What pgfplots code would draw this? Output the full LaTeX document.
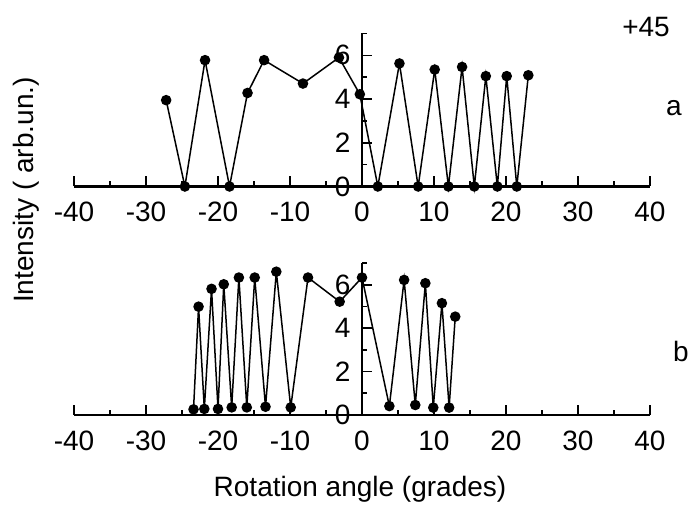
\documentclass[border=0pt]{standalone}
\usepackage{pgfplots}
\pgfplotsset{compat=1.18}
\usepackage{fontspec}
\setmainfont{Liberation Sans}

\pgfplotsset{
  panel/.style={
    scale only axis, width=576pt,
    axis lines=middle,
    axis line style={-, line width=2.2pt},
    xmin=-40, xmax=40, ymin=0, ymax=7,
    xtick={-40,-30,...,40},
    xticklabels={-40,-30,-20,-10,0,10,20,30,40},
    ytick={0,2,4,6}, minor ytick={1,3,5,7},
    yticklabels={0\kern8pt,2\kern8pt,4\kern8pt,6\kern8pt},
    tick align=inside,
    hide obscured x ticks=false, hide obscured y ticks=false,
    major tick length=10pt, minor tick length=5pt,
    major tick style={line width=1.6pt, black},
    minor tick style={line width=1.6pt, black},
    major x tick style={draw=none},
    ticklabel style={font=\fontsize{28}{30}\selectfont},
    xticklabel style={yshift=-12pt},
    clip=false,
  },
  dots/.style={black, line width=1.5pt, mark=*, mark size=4.5pt, mark options={solid, fill=black}},
  tickbar/.style={ycomb, no marks, black, line width=1.6pt},
}
% short upward tick bars on the x axis: every 10 long, every 5 short
\newcommand{\xtickbars}{%
  \addplot[tickbar] coordinates {(-40,0.46) (-30,0.46) (-20,0.46) (-10,0.46) (10,0.46) (20,0.46) (30,0.46) (40,0.46)};
  \addplot[tickbar] coordinates {(-35,0.23) (-25,0.23) (-15,0.23) (-5,0.23) (5,0.23) (15,0.23) (25,0.23) (35,0.23)};
}

\begin{document}
\begin{tikzpicture}[x=1pt,y=1pt]
  \path[use as bounding box] (0,0) rectangle (691,506);

  % panel a
  \begin{axis}[panel, height=153pt, at={(362pt,319.5pt)}, anchor=origin]
    \xtickbars
    \addplot[dots] coordinates {
      (-27.2,3.95) (-24.6,0) (-21.8,5.78) (-18.4,0) (-15.9,4.28)
      (-13.6,5.78) (-8.2,4.71) (-3.2,5.9) (-0.3,4.22) (2.2,0)
      (5.2,5.63) (7.8,0) (10.1,5.35) (12.0,0) (13.9,5.47)
      (15.6,0) (17.2,5.05) (18.8,0) (20.1,5.05) (21.5,0) (23.1,5.09)
    };
  \end{axis}

  % panel b
  \begin{axis}[panel, height=152pt, at={(362pt,91pt)}, anchor=origin]
    \xtickbars
    \addplot[dots] coordinates {
      (-23.4,0.26) (-22.7,4.99) (-21.9,0.28) (-20.9,5.81) (-20.0,0.28)
      (-19.2,6.02) (-18.1,0.35) (-17.1,6.33) (-16.0,0.35) (-14.9,6.33)
      (-13.4,0.38) (-11.9,6.6) (-9.9,0.35) (-7.5,6.33) (-3.1,5.22)
      (0.0,6.33) (3.8,0.41) (5.85,6.22) (7.4,0.46) (8.8,6.07)
      (9.9,0.34) (11.1,5.15) (12.1,0.34) (12.95,4.53)
    };
  \end{axis}

  \node[font=\fontsize{28}{30}\selectfont] at (646,479) {+45};
  \node[font=\fontsize{28}{30}\selectfont] at (674,398) {a};
  \node[font=\fontsize{28}{30}\selectfont] at (681,155) {b};
  \node[font=\fontsize{28}{30}\selectfont, rotate=90] at (26,316) {Intensity ( arb.un.)};
  \node[font=\fontsize{28}{30}\selectfont] at (360,17) {Rotation angle (grades)};
\end{tikzpicture}
\end{document}
